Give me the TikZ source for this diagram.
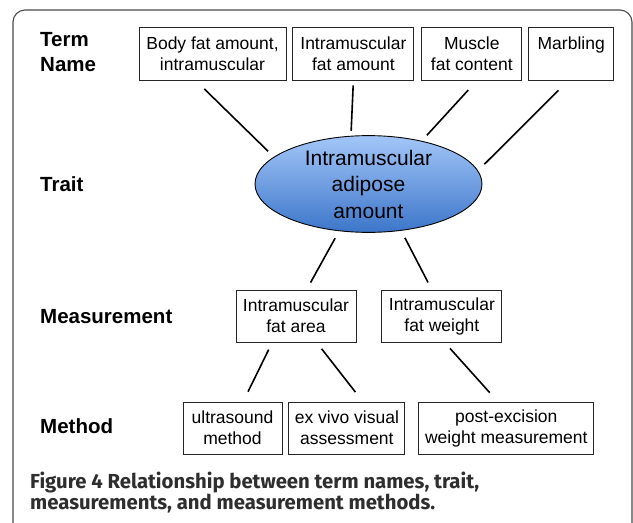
\documentclass[tikz,border=0pt]{standalone}
\usepackage{fontspec}
\setmainfont{Liberation Sans}
\newfontfamily\captionfont{Fira Sans}
\usepackage{tikz}
\usetikzlibrary{shapes.geometric, positioning}
\definecolor{traitlight}{HTML}{A3C6F8}
\definecolor{traitdark}{HTML}{3C76CA}
\definecolor{framegray}{HTML}{4A4A4A}
\definecolor{captiongray}{HTML}{2E2E2E}
\tikzstyle{termbox} = [rectangle, draw=black!85, line width=0.9pt, minimum height=53pt, inner sep=0pt, align=center, font=\fontsize{17.5}{21}\selectfont]
\tikzstyle{traitshape} = [ellipse, draw=black, line width=0.9pt, top color=traitlight, bottom color=traitdark, minimum width=227pt, minimum height=90pt, inner sep=0pt, align=center, font=\fontsize{21}{26.5}\selectfont]
\tikzstyle{rowlabel} = [anchor=base west, inner sep=0pt, font=\bfseries\fontsize{20.5}{25}\selectfont]
\tikzstyle{link} = [line width=1.6pt, shorten <=8pt, shorten >=8pt]

\begin{document}
\begin{tikzpicture}[x=1pt, y=-1pt, node distance=6pt]
    \fill[white] (0,0) rectangle (633,523);
    \path[clip] (0,0) rectangle (633,523);
    \draw[framegray, line width=1.1pt, rounded corners=12pt] (13,10) rectangle (632,560);

    % row labels
    \node[rowlabel, anchor=west, align=left] (lTerm) at (40,52) {Term\\Name};
    \node[rowlabel] (lTrait) at (40,191) {Trait};
    \node[rowlabel] (lMeas) at (40,323) {Measurement};
    \node[rowlabel] (lMethod) at (40,433) {Method};

    % term names
    \node[termbox, minimum width=147pt] (tBody) at (212.5,53.5) {Body fat amount,\\intramuscular};
    \node[termbox, minimum width=121pt, right=of tBody] (tIntra) {Intramuscular\\fat amount};
    \node[termbox, minimum width=100pt, right=7pt of tIntra] (tMuscle) {Muscle\\fat content};
    \node[termbox, minimum width=85pt, right=of tMuscle] (tMarb) {Marbling\\~};

    % trait
    \node[traitshape] (trait) at (368.5,184) {Intramuscular\\adipose\\amount};

    % measurements
    \node[termbox, minimum width=120pt, minimum height=52pt] (mArea) at (296,316) {Intramuscular\\fat area};
    \node[termbox, minimum width=120pt, minimum height=52pt, right=25pt of mArea] (mWeight) {Intramuscular\\fat weight};

    % methods
    \node[termbox, minimum width=99pt, minimum height=52pt] (mUltra) at (232.5,428) {ultrasound\\method};
    \node[termbox, minimum width=116pt, minimum height=52pt, right=of mUltra] (mVisual) {ex vivo visual\\assessment};
    \node[termbox, minimum width=175pt, minimum height=52pt, right=13pt of mVisual] (mPost) {post-excision\\weight measurement};

    \draw[link, shorten <=12pt] (tBody.238) -- (trait.164);
    \draw[link, shorten <=5pt, shorten >=5pt] (tIntra.south) -- (trait.110);
    \draw[link, shorten <=13pt, shorten >=7.5pt] (tMuscle.281) -- (trait.39);
    \draw[link, shorten <=14pt, shorten >=9pt] (tMarb.264) -- (trait.7);
    \draw[link] (trait.238) -- (mArea.68);
    \draw[link] (trait.305) -- (mWeight.111);
    \draw[link, shorten >=11pt] (mArea.228) -- (mUltra.68);
    \draw[link, shorten >=12pt] (mArea.308) -- (mVisual.59);
    \draw[link, shorten >=12pt] (mWeight.276) -- (mPost.108);

    % caption
    \node[anchor=west, align=left, inner sep=0pt, text=captiongray, font=\captionfont\bfseries\fontsize{20.3}{21}\selectfont] (caption) at (30,493) {Figure 4 Relationship between term names, trait,\\measurements, and measurement methods.};
\end{tikzpicture}
\end{document}
